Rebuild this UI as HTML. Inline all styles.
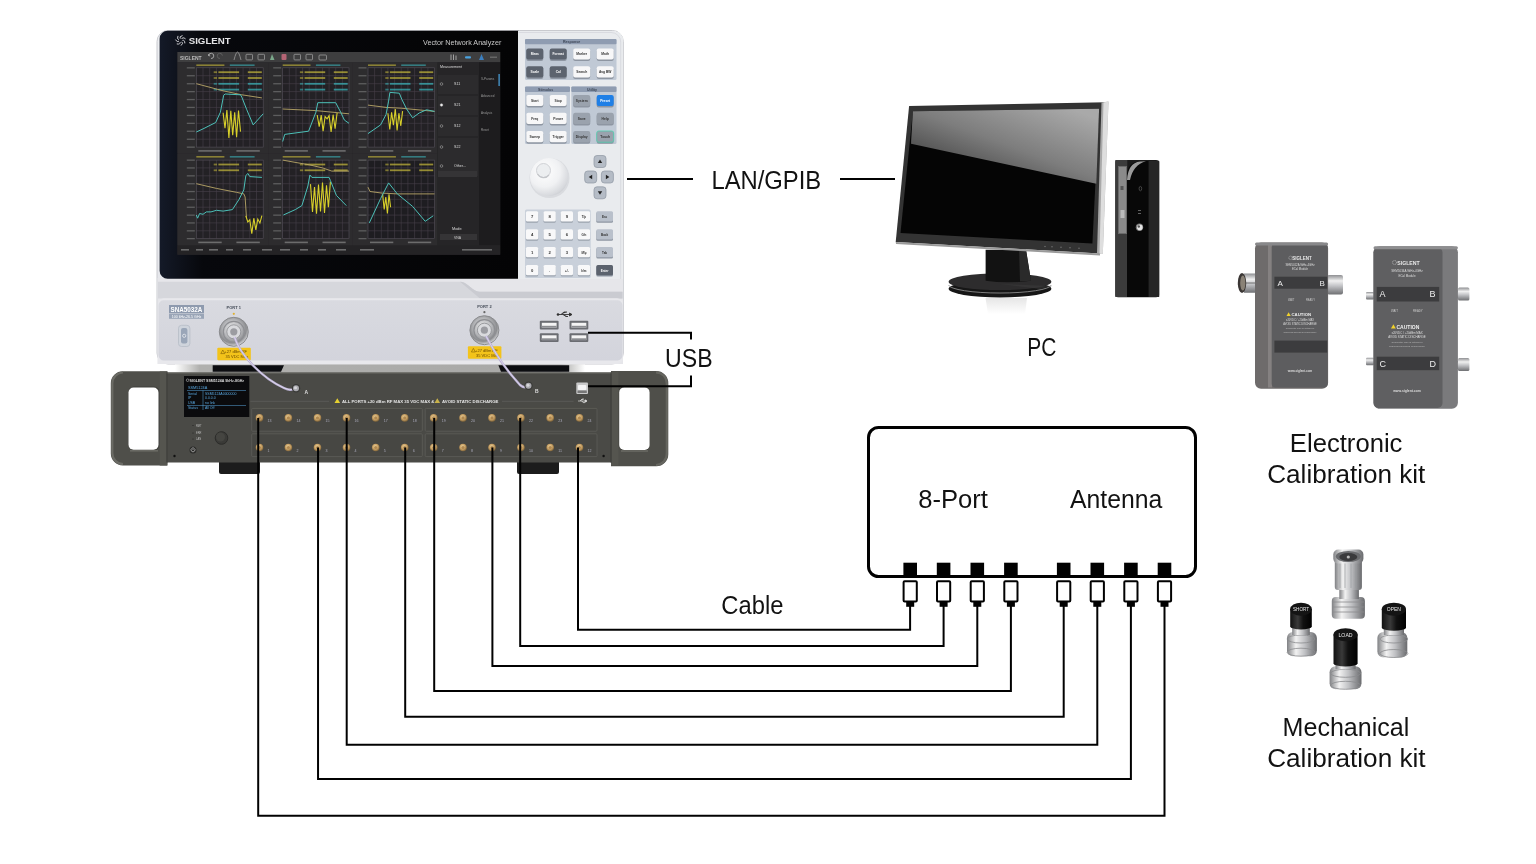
<!DOCTYPE html>
<html><head><meta charset="utf-8">
<style>
html,body{margin:0;padding:0;background:#fff;}
body{width:1536px;height:864px;overflow:hidden;position:relative;font-family:"Liberation Sans",sans-serif;}
svg{position:absolute;left:0;top:0;}
.t{font-family:"Liberation Sans",sans-serif;fill:#111;}
.s{font-family:"Liberation Sans",sans-serif;}
</style></head><body>
<svg width="1536" height="864" viewBox="0 0 1536 864">
<g opacity="0.999">
<defs><linearGradient id="bodyg" x1="0" y1="0" x2="0" y2="1"><stop offset="0" stop-color="#eceef1"/><stop offset="1" stop-color="#e3e4e9"/></linearGradient><linearGradient id="lowg" x1="0" y1="0" x2="0" y2="1"><stop offset="0" stop-color="#d9dae0"/><stop offset="1" stop-color="#d3d4dc"/></linearGradient><radialGradient id="knobg" cx="0.38" cy="0.35" r="0.75"><stop offset="0" stop-color="#ffffff"/><stop offset="0.55" stop-color="#f0f1f3"/><stop offset="0.85" stop-color="#d8dade"/><stop offset="1" stop-color="#c4c6cb"/></radialGradient><radialGradient id="conng" cx="0.45" cy="0.4" r="0.6"><stop offset="0" stop-color="#f4f4f4"/><stop offset="0.5" stop-color="#b8b9bc"/><stop offset="0.8" stop-color="#8c8d90"/><stop offset="1" stop-color="#d7d8da"/></radialGradient><linearGradient id="bez" x1="0" y1="0" x2="1" y2="0"><stop offset="0" stop-color="#141a28"/><stop offset="0.12" stop-color="#07080c"/><stop offset="1" stop-color="#040405"/></linearGradient></defs>
<rect x="157" y="30.5" width="466.3" height="333.5" rx="11" fill="url(#bodyg)" stroke="#c9cacf" stroke-width="1"/>
<rect x="157.5" y="278" width="465.5" height="86" fill="#e6e6ea"/>
<path d="M158 281.7H460C468 281.7 472 291.7 480 291.7H622.5V298.5H158Z" fill="#d6d7dc"/>
<path d="M460 281.7C468 281.7 472 291.7 480 291.7H622.5V298.5H480Z" fill="#cacbd1"/>
<path d="M158 364V304A6 6 0 0 1 164 298.2H617A6 6 0 0 1 623 304V358A6 6 0 0 1 617 364Z" fill="#e8e8ec"/>
<path d="M158.5 358V305A5 5 0 0 1 163.5 300.3H617.5A5 5 0 0 1 622.5 305V355A5 5 0 0 1 617.5 360.5H164A5.5 5.5 0 0 1 158.5 355Z" fill="url(#lowg)"/>
<path d="M168 30.8H518.5V278.8H168A8 8 0 0 1 159.6 270.8V38.8A8 8 0 0 1 168 30.8Z" fill="url(#bez)"/>
<text x="188.7" y="44.2" font-size="9.7" font-weight="bold" fill="#e4e4e6" class="s">SIGLENT</text>
<path d="M182.40 40.40Q184.72 39.57 184.89 43.34" fill="none" stroke="#d0d0d4" stroke-width="1"/>
<path d="M181.72 41.81Q183.82 43.10 180.98 45.59" fill="none" stroke="#d0d0d4" stroke-width="1"/>
<path d="M180.20 42.15Q180.50 44.60 176.78 43.93" fill="none" stroke="#d0d0d4" stroke-width="1"/>
<path d="M178.98 41.18Q177.25 42.94 175.46 39.62" fill="none" stroke="#d0d0d4" stroke-width="1"/>
<path d="M178.98 39.62Q176.53 39.37 178.01 35.89" fill="none" stroke="#d0d0d4" stroke-width="1"/>
<path d="M180.20 38.65Q178.87 36.57 182.51 35.56" fill="none" stroke="#d0d0d4" stroke-width="1"/>
<path d="M181.72 38.99Q182.51 36.66 185.57 38.88" fill="none" stroke="#d0d0d4" stroke-width="1"/>
<text x="423" y="44.5" font-size="7.2" fill="#c9c9c9" class="s">Vector Network Analyzer</text>
<rect x="177.5" y="52" width="322.7" height="202.7" fill="#2a292b"/>
<rect x="177.5" y="52" width="322.7" height="10.2" fill="#3e3e3f"/>
<text x="180" y="59.5" font-size="5" fill="#bbb" font-weight="bold" class="s">SIGLENT</text>
<path d="M211 58.5A2.6 2.6 0 1 0 208.6 55.6M208.6 55.6l0.2 -1.6M208.6 55.6l1.6 0.3" fill="none" stroke="#bbb" stroke-width="0.8"/>
<path d="M220 58.5A2.6 2.6 0 1 1 222.4 55.6" fill="none" stroke="#666" stroke-width="0.8"/>
<path d="M234 60Q236 52 237.5 52Q239 52 241 60" fill="none" stroke="#9a9a9a" stroke-width="0.8"/>
<rect x="246" y="54.3" width="6.5" height="5.6" rx="0.8" fill="none" stroke="#9a9a9a" stroke-width="0.8"/>
<rect x="258" y="54.3" width="6.5" height="5.6" rx="0.8" fill="none" stroke="#9a9a9a" stroke-width="0.8"/>
<rect x="294" y="54.3" width="6.5" height="5.6" rx="0.8" fill="none" stroke="#9a9a9a" stroke-width="0.8"/>
<rect x="306" y="54.3" width="6.5" height="5.6" rx="0.8" fill="none" stroke="#9a9a9a" stroke-width="0.8"/>
<path d="M270 60L272 54L274.5 60Z" fill="#7aa88a"/>
<rect x="281.5" y="54" width="5" height="6" rx="1" fill="#b46474"/>
<rect x="319" y="55" width="7.5" height="5" rx="1" fill="none" stroke="#9a9a9a" stroke-width="0.8"/>
<path d="M451 54.5V60M453.5 54.5V60M456 55.5V60" stroke="#bbb" stroke-width="0.8"/>
<rect x="465" y="56.3" width="6" height="2.2" rx="1" fill="#4aa3e0"/>
<path d="M479 60L481.5 54L484 60Z" fill="#3b7fc0"/>
<rect x="490" y="56.5" width="7" height="1.5" fill="#666"/>
<rect x="177.5" y="62.2" width="90.80000000000001" height="91.3" fill="#2d2c2e"/>
<rect x="196.3" y="67.8" width="66.89999999999998" height="79.3" fill="#232125"/>
<path d="M203.0 67.8V147.1M196.3 75.7H263.2M209.7 67.8V147.1M196.3 83.7H263.2M216.4 67.8V147.1M196.3 91.6H263.2M223.1 67.8V147.1M196.3 99.5H263.2M229.8 67.8V147.1M196.3 107.4H263.2M236.4 67.8V147.1M196.3 115.4H263.2M243.1 67.8V147.1M196.3 123.3H263.2M249.8 67.8V147.1M196.3 131.2H263.2M256.5 67.8V147.1M196.3 139.2H263.2" stroke="#463f49" stroke-width="0.6" fill="none"/>
<rect x="196.3" y="67.8" width="66.89999999999998" height="79.3" fill="none" stroke="#55505a" stroke-width="0.6"/>
<rect x="186.8" y="67.2" width="8" height="1.3" fill="#9a9a9a" opacity="0.45"/>
<rect x="186.8" y="75.1" width="8" height="1.3" fill="#9a9a9a" opacity="0.45"/>
<rect x="186.8" y="83.1" width="8" height="1.3" fill="#9a9a9a" opacity="0.45"/>
<rect x="186.8" y="91.0" width="8" height="1.3" fill="#9a9a9a" opacity="0.45"/>
<rect x="186.8" y="98.9" width="8" height="1.3" fill="#9a9a9a" opacity="0.45"/>
<rect x="186.8" y="106.8" width="8" height="1.3" fill="#9a9a9a" opacity="0.45"/>
<rect x="186.8" y="114.8" width="8" height="1.3" fill="#9a9a9a" opacity="0.45"/>
<rect x="186.8" y="122.7" width="8" height="1.3" fill="#9a9a9a" opacity="0.45"/>
<rect x="186.8" y="130.6" width="8" height="1.3" fill="#9a9a9a" opacity="0.45"/>
<rect x="186.8" y="138.6" width="8" height="1.3" fill="#9a9a9a" opacity="0.45"/>
<rect x="186.8" y="146.5" width="8" height="1.3" fill="#9a9a9a" opacity="0.45"/>
<rect x="196.3" y="64.4" width="28.1" height="1.6" fill="#c8b93a" opacity="0.6"/>
<rect x="229.8" y="64.4" width="24.8" height="1.6" fill="#3ab0b8" opacity="0.6"/>
<rect x="213.7" y="71.3" width="3.3" height="1.8" fill="#c8bb3c" opacity="0.55"/>
<rect x="218.4" y="71.3" width="20.7" height="1.8" fill="#c8bb3c" opacity="0.7"/>
<rect x="247.8" y="71.3" width="14.0" height="1.8" fill="#c8bb3c" opacity="0.7"/>
<rect x="213.7" y="77.1" width="3.3" height="1.8" fill="#c8bb3c" opacity="0.55"/>
<rect x="218.4" y="77.1" width="20.7" height="1.8" fill="#c8bb3c" opacity="0.7"/>
<rect x="247.8" y="77.1" width="14.0" height="1.8" fill="#c8bb3c" opacity="0.7"/>
<rect x="213.7" y="82.9" width="3.3" height="1.8" fill="#3bb9bf" opacity="0.55"/>
<rect x="218.4" y="82.9" width="20.7" height="1.8" fill="#3bb9bf" opacity="0.7"/>
<rect x="247.8" y="82.9" width="14.0" height="1.8" fill="#3bb9bf" opacity="0.7"/>
<rect x="213.7" y="88.7" width="3.3" height="1.8" fill="#3bb9bf" opacity="0.55"/>
<rect x="218.4" y="88.7" width="20.7" height="1.8" fill="#3bb9bf" opacity="0.7"/>
<rect x="247.8" y="88.7" width="14.0" height="1.8" fill="#3bb9bf" opacity="0.7"/>
<rect x="198.3" y="150.1" width="23.4" height="1.6" fill="#888" opacity="0.7"/>
<rect x="236.4" y="150.1" width="23.4" height="1.6" fill="#888" opacity="0.7"/>
<polyline points="196.3,83.7 223.1,90.8 241.8,94.8 261.9,97.9" fill="none" stroke="#b8a668" stroke-width="0.9"/>
<polyline points="223.1,112.8 225.0,128.1 226.9,110.1 228.9,138.0 230.8,110.7 232.7,135.1 234.7,112.4 236.6,137.1 238.5,110.5 240.5,131.6" fill="none" stroke="#d8d02a" stroke-width="1.1"/>
<polyline points="196.3,132.0 203.0,128.9 215.7,122.5 220.4,112.2 223.7,95.2 225.1,94.0 240.5,94.8 241.8,97.1 246.8,109.8 253.2,124.9 263.2,113.8" fill="none" stroke="#4cc0b8" stroke-width="1.0"/>
<rect x="177.5" y="153.8" width="90.80000000000001" height="91.6" fill="#2d2c2e"/>
<rect x="196.3" y="160.1" width="66.89999999999998" height="78.5" fill="#232125"/>
<path d="M203.0 160.1V238.6M196.3 167.9H263.2M209.7 160.1V238.6M196.3 175.8H263.2M216.4 160.1V238.6M196.3 183.7H263.2M223.1 160.1V238.6M196.3 191.5H263.2M229.8 160.1V238.6M196.3 199.3H263.2M236.4 160.1V238.6M196.3 207.2H263.2M243.1 160.1V238.6M196.3 215.1H263.2M249.8 160.1V238.6M196.3 222.9H263.2M256.5 160.1V238.6M196.3 230.8H263.2" stroke="#463f49" stroke-width="0.6" fill="none"/>
<rect x="196.3" y="160.1" width="66.89999999999998" height="78.5" fill="none" stroke="#55505a" stroke-width="0.6"/>
<rect x="186.8" y="159.5" width="8" height="1.3" fill="#9a9a9a" opacity="0.45"/>
<rect x="186.8" y="167.3" width="8" height="1.3" fill="#9a9a9a" opacity="0.45"/>
<rect x="186.8" y="175.2" width="8" height="1.3" fill="#9a9a9a" opacity="0.45"/>
<rect x="186.8" y="183.1" width="8" height="1.3" fill="#9a9a9a" opacity="0.45"/>
<rect x="186.8" y="190.9" width="8" height="1.3" fill="#9a9a9a" opacity="0.45"/>
<rect x="186.8" y="198.8" width="8" height="1.3" fill="#9a9a9a" opacity="0.45"/>
<rect x="186.8" y="206.6" width="8" height="1.3" fill="#9a9a9a" opacity="0.45"/>
<rect x="186.8" y="214.5" width="8" height="1.3" fill="#9a9a9a" opacity="0.45"/>
<rect x="186.8" y="222.3" width="8" height="1.3" fill="#9a9a9a" opacity="0.45"/>
<rect x="186.8" y="230.2" width="8" height="1.3" fill="#9a9a9a" opacity="0.45"/>
<rect x="186.8" y="238.0" width="8" height="1.3" fill="#9a9a9a" opacity="0.45"/>
<rect x="196.3" y="156.0" width="28.1" height="1.6" fill="#c8b93a" opacity="0.6"/>
<rect x="229.8" y="156.0" width="24.8" height="1.6" fill="#3ab0b8" opacity="0.6"/>
<rect x="213.7" y="163.6" width="3.3" height="1.8" fill="#c8bb3c" opacity="0.55"/>
<rect x="218.4" y="163.6" width="20.7" height="1.8" fill="#c8bb3c" opacity="0.7"/>
<rect x="247.8" y="163.6" width="14.0" height="1.8" fill="#c8bb3c" opacity="0.7"/>
<rect x="213.7" y="169.4" width="3.3" height="1.8" fill="#c8bb3c" opacity="0.55"/>
<rect x="218.4" y="169.4" width="20.7" height="1.8" fill="#c8bb3c" opacity="0.7"/>
<rect x="247.8" y="169.4" width="14.0" height="1.8" fill="#c8bb3c" opacity="0.7"/>
<rect x="198.3" y="241.6" width="23.4" height="1.6" fill="#888" opacity="0.7"/>
<rect x="236.4" y="241.6" width="23.4" height="1.6" fill="#888" opacity="0.7"/>
<polyline points="196.3,183.7 216.4,188.4 236.4,192.3 243.8,193.9 245.1,197.0 246.5,218.2" fill="none" stroke="#b8a668" stroke-width="0.9"/>
<polyline points="245.8,215.9 247.8,222.0 249.8,219.8 251.8,233.6 253.8,218.2 255.8,229.8 257.8,219.1 259.9,223.1 261.9,215.6" fill="none" stroke="#d8d02a" stroke-width="1.1"/>
<polyline points="196.3,215.0 197.6,218.2 199.6,213.5 203.0,214.3 206.3,211.9 211.0,211.9 216.4,210.3 223.1,211.1 232.4,209.6 239.1,199.3 243.8,189.9 245.8,175.8 247.8,173.4 249.8,176.6 261.9,177.4" fill="none" stroke="#4cc0b8" stroke-width="1.0"/>
<rect x="268.6" y="62.2" width="83.89999999999998" height="91.3" fill="#2d2c2e"/>
<rect x="282.7" y="67.8" width="66.30000000000001" height="79.3" fill="#232125"/>
<path d="M289.3 67.8V147.1M282.7 75.7H349.0M296.0 67.8V147.1M282.7 83.7H349.0M302.6 67.8V147.1M282.7 91.6H349.0M309.2 67.8V147.1M282.7 99.5H349.0M315.9 67.8V147.1M282.7 107.4H349.0M322.5 67.8V147.1M282.7 115.4H349.0M329.1 67.8V147.1M282.7 123.3H349.0M335.7 67.8V147.1M282.7 131.2H349.0M342.4 67.8V147.1M282.7 139.2H349.0" stroke="#463f49" stroke-width="0.6" fill="none"/>
<rect x="282.7" y="67.8" width="66.30000000000001" height="79.3" fill="none" stroke="#55505a" stroke-width="0.6"/>
<rect x="273.2" y="67.2" width="8" height="1.3" fill="#9a9a9a" opacity="0.45"/>
<rect x="273.2" y="75.1" width="8" height="1.3" fill="#9a9a9a" opacity="0.45"/>
<rect x="273.2" y="83.1" width="8" height="1.3" fill="#9a9a9a" opacity="0.45"/>
<rect x="273.2" y="91.0" width="8" height="1.3" fill="#9a9a9a" opacity="0.45"/>
<rect x="273.2" y="98.9" width="8" height="1.3" fill="#9a9a9a" opacity="0.45"/>
<rect x="273.2" y="106.8" width="8" height="1.3" fill="#9a9a9a" opacity="0.45"/>
<rect x="273.2" y="114.8" width="8" height="1.3" fill="#9a9a9a" opacity="0.45"/>
<rect x="273.2" y="122.7" width="8" height="1.3" fill="#9a9a9a" opacity="0.45"/>
<rect x="273.2" y="130.6" width="8" height="1.3" fill="#9a9a9a" opacity="0.45"/>
<rect x="273.2" y="138.6" width="8" height="1.3" fill="#9a9a9a" opacity="0.45"/>
<rect x="273.2" y="146.5" width="8" height="1.3" fill="#9a9a9a" opacity="0.45"/>
<rect x="282.7" y="64.4" width="27.8" height="1.6" fill="#c8b93a" opacity="0.6"/>
<rect x="315.9" y="64.4" width="24.5" height="1.6" fill="#3ab0b8" opacity="0.6"/>
<rect x="299.9" y="71.3" width="3.3" height="1.8" fill="#c8bb3c" opacity="0.55"/>
<rect x="304.6" y="71.3" width="20.6" height="1.8" fill="#c8bb3c" opacity="0.7"/>
<rect x="333.8" y="71.3" width="13.9" height="1.8" fill="#c8bb3c" opacity="0.7"/>
<rect x="299.9" y="77.1" width="3.3" height="1.8" fill="#c8bb3c" opacity="0.55"/>
<rect x="304.6" y="77.1" width="20.6" height="1.8" fill="#c8bb3c" opacity="0.7"/>
<rect x="333.8" y="77.1" width="13.9" height="1.8" fill="#c8bb3c" opacity="0.7"/>
<rect x="299.9" y="82.9" width="3.3" height="1.8" fill="#3bb9bf" opacity="0.55"/>
<rect x="304.6" y="82.9" width="20.6" height="1.8" fill="#3bb9bf" opacity="0.7"/>
<rect x="333.8" y="82.9" width="13.9" height="1.8" fill="#3bb9bf" opacity="0.7"/>
<rect x="299.9" y="88.7" width="3.3" height="1.8" fill="#3bb9bf" opacity="0.55"/>
<rect x="304.6" y="88.7" width="20.6" height="1.8" fill="#3bb9bf" opacity="0.7"/>
<rect x="333.8" y="88.7" width="13.9" height="1.8" fill="#3bb9bf" opacity="0.7"/>
<rect x="284.7" y="150.1" width="23.2" height="1.6" fill="#888" opacity="0.7"/>
<rect x="322.5" y="150.1" width="23.2" height="1.6" fill="#888" opacity="0.7"/>
<polyline points="282.7,109.0 315.9,110.6 349.0,113.8" fill="none" stroke="#b8a668" stroke-width="0.9"/>
<polyline points="317.2,115.0 319.2,126.7 321.2,115.1 323.1,131.1 325.1,116.6 327.1,118.9 329.1,115.6 331.1,132.0 333.1,114.7 335.1,128.7 337.1,113.0" fill="none" stroke="#d8d02a" stroke-width="1.1"/>
<polyline points="282.7,141.5 284.7,134.4 308.6,131.2 315.9,112.2 317.8,102.7 335.7,102.7 340.7,112.2 344.4,120.1 349.0,123.3" fill="none" stroke="#4cc0b8" stroke-width="1.0"/>
<rect x="268.6" y="153.8" width="83.89999999999998" height="91.6" fill="#2d2c2e"/>
<rect x="282.7" y="160.1" width="66.30000000000001" height="78.5" fill="#232125"/>
<path d="M289.3 160.1V238.6M282.7 167.9H349.0M296.0 160.1V238.6M282.7 175.8H349.0M302.6 160.1V238.6M282.7 183.7H349.0M309.2 160.1V238.6M282.7 191.5H349.0M315.9 160.1V238.6M282.7 199.3H349.0M322.5 160.1V238.6M282.7 207.2H349.0M329.1 160.1V238.6M282.7 215.1H349.0M335.7 160.1V238.6M282.7 222.9H349.0M342.4 160.1V238.6M282.7 230.8H349.0" stroke="#463f49" stroke-width="0.6" fill="none"/>
<rect x="282.7" y="160.1" width="66.30000000000001" height="78.5" fill="none" stroke="#55505a" stroke-width="0.6"/>
<rect x="273.2" y="159.5" width="8" height="1.3" fill="#9a9a9a" opacity="0.45"/>
<rect x="273.2" y="167.3" width="8" height="1.3" fill="#9a9a9a" opacity="0.45"/>
<rect x="273.2" y="175.2" width="8" height="1.3" fill="#9a9a9a" opacity="0.45"/>
<rect x="273.2" y="183.1" width="8" height="1.3" fill="#9a9a9a" opacity="0.45"/>
<rect x="273.2" y="190.9" width="8" height="1.3" fill="#9a9a9a" opacity="0.45"/>
<rect x="273.2" y="198.8" width="8" height="1.3" fill="#9a9a9a" opacity="0.45"/>
<rect x="273.2" y="206.6" width="8" height="1.3" fill="#9a9a9a" opacity="0.45"/>
<rect x="273.2" y="214.5" width="8" height="1.3" fill="#9a9a9a" opacity="0.45"/>
<rect x="273.2" y="222.3" width="8" height="1.3" fill="#9a9a9a" opacity="0.45"/>
<rect x="273.2" y="230.2" width="8" height="1.3" fill="#9a9a9a" opacity="0.45"/>
<rect x="273.2" y="238.0" width="8" height="1.3" fill="#9a9a9a" opacity="0.45"/>
<rect x="282.7" y="156.0" width="27.8" height="1.6" fill="#c8b93a" opacity="0.6"/>
<rect x="315.9" y="156.0" width="24.5" height="1.6" fill="#3ab0b8" opacity="0.6"/>
<rect x="299.9" y="163.6" width="3.3" height="1.8" fill="#c8bb3c" opacity="0.55"/>
<rect x="304.6" y="163.6" width="20.6" height="1.8" fill="#c8bb3c" opacity="0.7"/>
<rect x="333.8" y="163.6" width="13.9" height="1.8" fill="#c8bb3c" opacity="0.7"/>
<rect x="299.9" y="169.4" width="3.3" height="1.8" fill="#c8bb3c" opacity="0.55"/>
<rect x="304.6" y="169.4" width="20.6" height="1.8" fill="#c8bb3c" opacity="0.7"/>
<rect x="333.8" y="169.4" width="13.9" height="1.8" fill="#c8bb3c" opacity="0.7"/>
<rect x="284.7" y="241.6" width="23.2" height="1.6" fill="#888" opacity="0.7"/>
<rect x="322.5" y="241.6" width="23.2" height="1.6" fill="#888" opacity="0.7"/>
<polyline points="282.7,160.1 296.0,162.5 309.2,164.8 322.5,167.9 331.8,171.1 349.0,171.1" fill="none" stroke="#b8a668" stroke-width="0.9"/>
<polyline points="310.5,184.1 312.5,211.9 314.5,187.1 316.5,213.8 318.5,184.5 320.5,211.4 322.5,182.5 324.5,212.9 326.5,185.3 328.4,207.3 330.4,181.9" fill="none" stroke="#d8d02a" stroke-width="1.1"/>
<polyline points="283.4,215.0 295.3,209.6 301.9,205.6 307.9,186.0 309.9,175.0 311.9,177.4 329.1,177.4 330.4,180.5 336.4,195.4 346.3,205.6" fill="none" stroke="#4cc0b8" stroke-width="1.0"/>
<rect x="352.8" y="62.2" width="84.19999999999999" height="91.3" fill="#2d2c2e"/>
<rect x="368.0" y="67.8" width="66.5" height="79.3" fill="#232125"/>
<path d="M374.6 67.8V147.1M368.0 75.7H434.5M381.3 67.8V147.1M368.0 83.7H434.5M387.9 67.8V147.1M368.0 91.6H434.5M394.6 67.8V147.1M368.0 99.5H434.5M401.2 67.8V147.1M368.0 107.4H434.5M407.9 67.8V147.1M368.0 115.4H434.5M414.6 67.8V147.1M368.0 123.3H434.5M421.2 67.8V147.1M368.0 131.2H434.5M427.9 67.8V147.1M368.0 139.2H434.5" stroke="#463f49" stroke-width="0.6" fill="none"/>
<rect x="368.0" y="67.8" width="66.5" height="79.3" fill="none" stroke="#55505a" stroke-width="0.6"/>
<rect x="358.5" y="67.2" width="8" height="1.3" fill="#9a9a9a" opacity="0.45"/>
<rect x="358.5" y="75.1" width="8" height="1.3" fill="#9a9a9a" opacity="0.45"/>
<rect x="358.5" y="83.1" width="8" height="1.3" fill="#9a9a9a" opacity="0.45"/>
<rect x="358.5" y="91.0" width="8" height="1.3" fill="#9a9a9a" opacity="0.45"/>
<rect x="358.5" y="98.9" width="8" height="1.3" fill="#9a9a9a" opacity="0.45"/>
<rect x="358.5" y="106.8" width="8" height="1.3" fill="#9a9a9a" opacity="0.45"/>
<rect x="358.5" y="114.8" width="8" height="1.3" fill="#9a9a9a" opacity="0.45"/>
<rect x="358.5" y="122.7" width="8" height="1.3" fill="#9a9a9a" opacity="0.45"/>
<rect x="358.5" y="130.6" width="8" height="1.3" fill="#9a9a9a" opacity="0.45"/>
<rect x="358.5" y="138.6" width="8" height="1.3" fill="#9a9a9a" opacity="0.45"/>
<rect x="358.5" y="146.5" width="8" height="1.3" fill="#9a9a9a" opacity="0.45"/>
<rect x="368.0" y="64.4" width="27.9" height="1.6" fill="#c8b93a" opacity="0.6"/>
<rect x="401.2" y="64.4" width="24.6" height="1.6" fill="#3ab0b8" opacity="0.6"/>
<rect x="385.3" y="71.3" width="3.3" height="1.8" fill="#c8bb3c" opacity="0.55"/>
<rect x="389.9" y="71.3" width="20.6" height="1.8" fill="#c8bb3c" opacity="0.7"/>
<rect x="419.2" y="71.3" width="14.0" height="1.8" fill="#c8bb3c" opacity="0.7"/>
<rect x="385.3" y="77.1" width="3.3" height="1.8" fill="#c8bb3c" opacity="0.55"/>
<rect x="389.9" y="77.1" width="20.6" height="1.8" fill="#c8bb3c" opacity="0.7"/>
<rect x="419.2" y="77.1" width="14.0" height="1.8" fill="#c8bb3c" opacity="0.7"/>
<rect x="385.3" y="82.9" width="3.3" height="1.8" fill="#3bb9bf" opacity="0.55"/>
<rect x="389.9" y="82.9" width="20.6" height="1.8" fill="#3bb9bf" opacity="0.7"/>
<rect x="419.2" y="82.9" width="14.0" height="1.8" fill="#3bb9bf" opacity="0.7"/>
<rect x="385.3" y="88.7" width="3.3" height="1.8" fill="#3bb9bf" opacity="0.55"/>
<rect x="389.9" y="88.7" width="20.6" height="1.8" fill="#3bb9bf" opacity="0.7"/>
<rect x="419.2" y="88.7" width="14.0" height="1.8" fill="#3bb9bf" opacity="0.7"/>
<rect x="370.0" y="150.1" width="23.3" height="1.6" fill="#888" opacity="0.7"/>
<rect x="407.9" y="150.1" width="23.3" height="1.6" fill="#888" opacity="0.7"/>
<polyline points="368.0,105.1 386.0,107.4 401.2,108.2 434.5,111.4" fill="none" stroke="#b8a668" stroke-width="0.9"/>
<polyline points="387.9,113.2 389.8,129.5 391.6,112.3 393.4,125.2 395.3,109.1 397.1,130.5 398.9,113.2 400.8,125.8 402.6,111.1" fill="none" stroke="#d8d02a" stroke-width="1.1"/>
<polyline points="368.0,133.6 380.6,124.9 386.0,114.6 388.6,101.1 389.9,92.4 399.3,93.2 401.9,99.5 406.6,109.0 412.6,117.8 419.2,113.0 426.5,109.8 434.5,111.4" fill="none" stroke="#4cc0b8" stroke-width="1.0"/>
<rect x="352.8" y="153.8" width="84.19999999999999" height="91.6" fill="#2d2c2e"/>
<rect x="368.0" y="160.1" width="66.5" height="78.5" fill="#1e1d21"/>
<path d="M374.6 160.1V238.6M368.0 167.9H434.5M381.3 160.1V238.6M368.0 175.8H434.5M387.9 160.1V238.6M368.0 183.7H434.5M394.6 160.1V238.6M368.0 191.5H434.5M401.2 160.1V238.6M368.0 199.3H434.5M407.9 160.1V238.6M368.0 207.2H434.5M414.6 160.1V238.6M368.0 215.1H434.5M421.2 160.1V238.6M368.0 222.9H434.5M427.9 160.1V238.6M368.0 230.8H434.5" stroke="#463f49" stroke-width="0.6" fill="none"/>
<rect x="368.0" y="160.1" width="66.5" height="78.5" fill="none" stroke="#55505a" stroke-width="0.6"/>
<rect x="358.5" y="159.5" width="8" height="1.3" fill="#9a9a9a" opacity="0.45"/>
<rect x="358.5" y="167.3" width="8" height="1.3" fill="#9a9a9a" opacity="0.45"/>
<rect x="358.5" y="175.2" width="8" height="1.3" fill="#9a9a9a" opacity="0.45"/>
<rect x="358.5" y="183.1" width="8" height="1.3" fill="#9a9a9a" opacity="0.45"/>
<rect x="358.5" y="190.9" width="8" height="1.3" fill="#9a9a9a" opacity="0.45"/>
<rect x="358.5" y="198.8" width="8" height="1.3" fill="#9a9a9a" opacity="0.45"/>
<rect x="358.5" y="206.6" width="8" height="1.3" fill="#9a9a9a" opacity="0.45"/>
<rect x="358.5" y="214.5" width="8" height="1.3" fill="#9a9a9a" opacity="0.45"/>
<rect x="358.5" y="222.3" width="8" height="1.3" fill="#9a9a9a" opacity="0.45"/>
<rect x="358.5" y="230.2" width="8" height="1.3" fill="#9a9a9a" opacity="0.45"/>
<rect x="358.5" y="238.0" width="8" height="1.3" fill="#9a9a9a" opacity="0.45"/>
<rect x="368.0" y="156.0" width="27.9" height="1.6" fill="#c8b93a" opacity="0.6"/>
<rect x="401.2" y="156.0" width="24.6" height="1.6" fill="#3ab0b8" opacity="0.6"/>
<rect x="385.3" y="163.6" width="3.3" height="1.8" fill="#c8bb3c" opacity="0.55"/>
<rect x="389.9" y="163.6" width="20.6" height="1.8" fill="#c8bb3c" opacity="0.7"/>
<rect x="419.2" y="163.6" width="14.0" height="1.8" fill="#c8bb3c" opacity="0.7"/>
<rect x="385.3" y="169.4" width="3.3" height="1.8" fill="#c8bb3c" opacity="0.55"/>
<rect x="389.9" y="169.4" width="20.6" height="1.8" fill="#c8bb3c" opacity="0.7"/>
<rect x="419.2" y="169.4" width="14.0" height="1.8" fill="#c8bb3c" opacity="0.7"/>
<rect x="370.0" y="241.6" width="23.3" height="1.6" fill="#888" opacity="0.7"/>
<rect x="407.9" y="241.6" width="23.3" height="1.6" fill="#888" opacity="0.7"/>
<polyline points="368.0,187.2 370.0,191.5 382.0,193.1 397.3,193.9 434.5,193.9" fill="none" stroke="#b8a668" stroke-width="0.9"/>
<polyline points="382.6,194.1 384.2,209.4 385.8,197.1 387.4,213.5 389.0,194.4 390.6,207.3" fill="none" stroke="#d8d02a" stroke-width="1.1"/>
<polyline points="369.3,222.9 380.6,198.6 388.6,182.9 397.3,193.9 412.6,206.4 425.2,221.3 433.2,215.8" fill="none" stroke="#4cc0b8" stroke-width="1.0"/>
<rect x="437.3" y="62.2" width="41.5" height="183.2" fill="#262527"/>
<text x="440" y="68" font-size="3.6" fill="#ddd" class="s">Measurement</text>
<rect x="438" y="75" width="40" height="19" fill="#2c2b2d"/>
<circle cx="441.5" cy="84" r="1.3" fill="none" stroke="#bbb" stroke-width="0.5"/>
<text x="454" y="85.2" font-size="3.6" fill="#ddd" class="s">S11</text>
<rect x="438" y="96" width="40" height="19" fill="#2c2b2d"/>
<circle cx="441.5" cy="105" r="1.3" fill="#eee" stroke="#bbb" stroke-width="0.5"/>
<text x="454" y="106.2" font-size="3.6" fill="#ddd" class="s">S21</text>
<rect x="438" y="117" width="40" height="19" fill="#2c2b2d"/>
<circle cx="441.5" cy="126" r="1.3" fill="none" stroke="#bbb" stroke-width="0.5"/>
<text x="454" y="127.2" font-size="3.6" fill="#ddd" class="s">S12</text>
<rect x="438" y="138" width="40" height="19" fill="#2c2b2d"/>
<circle cx="441.5" cy="147" r="1.3" fill="none" stroke="#bbb" stroke-width="0.5"/>
<text x="454" y="148.2" font-size="3.6" fill="#ddd" class="s">S22</text>
<rect x="438" y="157" width="40" height="19" fill="#2c2b2d"/>
<circle cx="441.5" cy="166" r="1.3" fill="none" stroke="#bbb" stroke-width="0.5"/>
<text x="454" y="167.2" font-size="3.6" fill="#ddd" class="s">Other...</text>
<rect x="438" y="171" width="39" height="6" fill="#353436"/>
<text x="452" y="229.5" font-size="3.8" fill="#ddd" class="s">Mode</text>
<rect x="440" y="234" width="37" height="6" fill="#353436"/>
<text x="454" y="238.5" font-size="3.5" fill="#ccc" class="s">VNA</text>
<rect x="479" y="62.2" width="21.2" height="183.2" fill="#1d1c1e"/>
<text x="481" y="80" font-size="3" fill="#999" class="s">S-Params</text>
<text x="481" y="97" font-size="3" fill="#999" class="s">Advanced</text>
<text x="481" y="114" font-size="3" fill="#999" class="s">Analysis</text>
<text x="481" y="131" font-size="3" fill="#999" class="s">Reset</text>
<rect x="498.5" y="74" width="1.2" height="12" fill="#4aa3e0"/>
<rect x="177.5" y="245.4" width="322.7" height="9.3" fill="#242325"/>
<rect x="181" y="249" width="8" height="1.6" fill="#8a8a8a" opacity="0.7"/>
<path d="M518.5 31H612A11 11 0 0 1 623 42V279H518.5Z" fill="#e9ebee"/>
<rect x="196" y="249" width="7" height="1.6" fill="#8a8a8a" opacity="0.7"/>
<path d="M518.5 31H612A11 11 0 0 1 623 42V279H518.5Z" fill="#e9ebee"/>
<rect x="209" y="249" width="9" height="1.6" fill="#8a8a8a" opacity="0.7"/>
<path d="M518.5 31H612A11 11 0 0 1 623 42V279H518.5Z" fill="#e9ebee"/>
<rect x="226" y="249" width="7" height="1.6" fill="#8a8a8a" opacity="0.7"/>
<path d="M518.5 31H612A11 11 0 0 1 623 42V279H518.5Z" fill="#e9ebee"/>
<rect x="243" y="249" width="8" height="1.6" fill="#8a8a8a" opacity="0.7"/>
<path d="M518.5 31H612A11 11 0 0 1 623 42V279H518.5Z" fill="#e9ebee"/>
<rect x="262" y="249" width="10" height="1.6" fill="#8a8a8a" opacity="0.7"/>
<path d="M518.5 31H612A11 11 0 0 1 623 42V279H518.5Z" fill="#e9ebee"/>
<rect x="280" y="249" width="10" height="1.6" fill="#8a8a8a" opacity="0.7"/>
<path d="M518.5 31H612A11 11 0 0 1 623 42V279H518.5Z" fill="#e9ebee"/>
<rect x="300" y="249" width="8" height="1.6" fill="#8a8a8a" opacity="0.7"/>
<path d="M518.5 31H612A11 11 0 0 1 623 42V279H518.5Z" fill="#e9ebee"/>
<rect x="318" y="249" width="8" height="1.6" fill="#8a8a8a" opacity="0.7"/>
<path d="M518.5 31H612A11 11 0 0 1 623 42V279H518.5Z" fill="#e9ebee"/>
<rect x="336" y="249" width="10" height="1.6" fill="#8a8a8a" opacity="0.7"/>
<path d="M518.5 31H612A11 11 0 0 1 623 42V279H518.5Z" fill="#e9ebee"/>
<rect x="360" y="249" width="14" height="1.6" fill="#8a8a8a" opacity="0.7"/>
<path d="M518.5 31H612A11 11 0 0 1 623 42V279H518.5Z" fill="#e9ebee"/>
<rect x="462" y="249" width="30" height="1.6" fill="#8a8a8a" opacity="0.7"/>
<path d="M518.5 31H612A11 11 0 0 1 623 42V279H518.5Z" fill="#e9ebee"/>
<path d="M518.5 32.5H611A9.5 9.5 0 0 1 620.7 42V279" fill="none" stroke="#d4d6dc" stroke-width="0.8"/>
<rect x="525" y="39" width="91.5" height="41" rx="1.5" fill="#c0c9d5"/>
<rect x="525" y="39" width="91.5" height="5.3" rx="1" fill="#8f9cb1"/>
<rect x="525" y="86.4" width="45" height="57.6" rx="1.5" fill="#c0c9d5"/>
<rect x="571.3" y="86.4" width="45.2" height="57.6" rx="1.5" fill="#c0c9d5"/>
<rect x="525" y="86.4" width="45" height="5.7" rx="1" fill="#8f9cb1"/>
<rect x="571.3" y="86.4" width="45.2" height="5.7" rx="1" fill="#8f9cb1"/>
<text x="563" y="43.3" font-size="3.6" fill="#3d4656" class="s" font-weight="bold">Response</text>
<text x="538" y="90.6" font-size="3.6" fill="#3d4656" class="s" font-weight="bold">Stimulus</text>
<text x="587" y="90.6" font-size="3.6" fill="#3d4656" class="s" font-weight="bold">Utility</text>
<rect x="526.3" y="49.6" width="17" height="11.5" rx="2" fill="#8e96a2"/>
<rect x="526.3" y="48.4" width="17" height="11.2" rx="2" fill="#5c636e"/>
<text x="534.8" y="55.199999999999996" font-size="3.3" fill="#fff" text-anchor="middle" class="s" font-weight="bold">Meas</text>
<rect x="549.7" y="49.6" width="17" height="11.5" rx="2" fill="#8e96a2"/>
<rect x="549.7" y="48.4" width="17" height="11.2" rx="2" fill="#5c636e"/>
<text x="558.2" y="55.199999999999996" font-size="3.3" fill="#fff" text-anchor="middle" class="s" font-weight="bold">Format</text>
<rect x="573.2" y="49.6" width="17" height="11.5" rx="2" fill="#8e96a2"/>
<rect x="573.2" y="48.4" width="17" height="11.2" rx="2" fill="#f7f7f8"/>
<text x="581.7" y="55.199999999999996" font-size="3.3" fill="#333" text-anchor="middle" class="s" font-weight="bold">Marker</text>
<rect x="596.7" y="49.6" width="17" height="11.5" rx="2" fill="#8e96a2"/>
<rect x="596.7" y="48.4" width="17" height="11.2" rx="2" fill="#f7f7f8"/>
<text x="605.2" y="55.199999999999996" font-size="3.3" fill="#333" text-anchor="middle" class="s" font-weight="bold">Math</text>
<rect x="526.3" y="67.4" width="17" height="11.5" rx="2" fill="#8e96a2"/>
<rect x="526.3" y="66.2" width="17" height="11.2" rx="2" fill="#5c636e"/>
<text x="534.8" y="73.0" font-size="3.3" fill="#fff" text-anchor="middle" class="s" font-weight="bold">Scale</text>
<rect x="549.7" y="67.4" width="17" height="11.5" rx="2" fill="#8e96a2"/>
<rect x="549.7" y="66.2" width="17" height="11.2" rx="2" fill="#5c636e"/>
<text x="558.2" y="73.0" font-size="3.3" fill="#fff" text-anchor="middle" class="s" font-weight="bold">Cal</text>
<rect x="573.2" y="67.4" width="17" height="11.5" rx="2" fill="#8e96a2"/>
<rect x="573.2" y="66.2" width="17" height="11.2" rx="2" fill="#f7f7f8"/>
<text x="581.7" y="73.0" font-size="3.3" fill="#333" text-anchor="middle" class="s" font-weight="bold">Search</text>
<rect x="596.7" y="67.4" width="17" height="11.5" rx="2" fill="#8e96a2"/>
<rect x="596.7" y="66.2" width="17" height="11.2" rx="2" fill="#f7f7f8"/>
<text x="605.2" y="73.0" font-size="3.3" fill="#333" text-anchor="middle" class="s" font-weight="bold">Avg BW</text>
<rect x="526.3" y="96.10000000000001" width="17" height="11.5" rx="2" fill="#8e96a2"/>
<rect x="526.3" y="94.9" width="17" height="11.2" rx="2" fill="#f7f7f8"/>
<text x="534.8" y="101.7" font-size="3.3" fill="#333" text-anchor="middle" class="s" font-weight="bold">Start</text>
<rect x="549.7" y="96.10000000000001" width="17" height="11.5" rx="2" fill="#8e96a2"/>
<rect x="549.7" y="94.9" width="17" height="11.2" rx="2" fill="#f7f7f8"/>
<text x="558.2" y="101.7" font-size="3.3" fill="#333" text-anchor="middle" class="s" font-weight="bold">Stop</text>
<rect x="573.2" y="96.10000000000001" width="17" height="11.5" rx="2" fill="#8e96a2"/>
<rect x="573.2" y="94.9" width="17" height="11.2" rx="2" fill="#9aa2ad"/>
<text x="581.7" y="101.7" font-size="3.3" fill="#333" text-anchor="middle" class="s" font-weight="bold">System</text>
<rect x="596.7" y="96.10000000000001" width="17" height="11.5" rx="2" fill="#8e96a2"/>
<rect x="596.7" y="94.9" width="17" height="11.2" rx="2" fill="#1f7fe6"/>
<text x="605.2" y="101.7" font-size="3.3" fill="#fff" text-anchor="middle" class="s" font-weight="bold">Preset</text>
<rect x="526.3" y="113.9" width="17" height="11.5" rx="2" fill="#8e96a2"/>
<rect x="526.3" y="112.7" width="17" height="11.2" rx="2" fill="#f7f7f8"/>
<text x="534.8" y="119.5" font-size="3.3" fill="#333" text-anchor="middle" class="s" font-weight="bold">Freq</text>
<rect x="549.7" y="113.9" width="17" height="11.5" rx="2" fill="#8e96a2"/>
<rect x="549.7" y="112.7" width="17" height="11.2" rx="2" fill="#f7f7f8"/>
<text x="558.2" y="119.5" font-size="3.3" fill="#333" text-anchor="middle" class="s" font-weight="bold">Power</text>
<rect x="573.2" y="113.9" width="17" height="11.5" rx="2" fill="#8e96a2"/>
<rect x="573.2" y="112.7" width="17" height="11.2" rx="2" fill="#9aa2ad"/>
<text x="581.7" y="119.5" font-size="3.3" fill="#333" text-anchor="middle" class="s" font-weight="bold">Save</text>
<rect x="596.7" y="113.9" width="17" height="11.5" rx="2" fill="#8e96a2"/>
<rect x="596.7" y="112.7" width="17" height="11.2" rx="2" fill="#9aa2ad"/>
<text x="605.2" y="119.5" font-size="3.3" fill="#333" text-anchor="middle" class="s" font-weight="bold">Help</text>
<rect x="526.3" y="132.2" width="17" height="11.5" rx="2" fill="#8e96a2"/>
<rect x="526.3" y="131" width="17" height="11.2" rx="2" fill="#f7f7f8"/>
<text x="534.8" y="137.8" font-size="3.3" fill="#333" text-anchor="middle" class="s" font-weight="bold">Sweep</text>
<rect x="549.7" y="132.2" width="17" height="11.5" rx="2" fill="#8e96a2"/>
<rect x="549.7" y="131" width="17" height="11.2" rx="2" fill="#f7f7f8"/>
<text x="558.2" y="137.8" font-size="3.3" fill="#333" text-anchor="middle" class="s" font-weight="bold">Trigger</text>
<rect x="573.2" y="132.2" width="17" height="11.5" rx="2" fill="#8e96a2"/>
<rect x="573.2" y="131" width="17" height="11.2" rx="2" fill="#9aa2ad"/>
<text x="581.7" y="137.8" font-size="3.3" fill="#333" text-anchor="middle" class="s" font-weight="bold">Display</text>
<rect x="596.7" y="132.2" width="17" height="11.5" rx="2" fill="#8e96a2"/>
<rect x="596.7" y="131" width="17" height="11.2" rx="2" fill="#9aa2ad"/>
<text x="605.2" y="137.8" font-size="3.3" fill="#333" text-anchor="middle" class="s" font-weight="bold">Touch</text>
<rect x="596.7" y="131" width="17" height="11.2" rx="2" fill="none" stroke="#4fd0b0" stroke-width="0.8"/>
<circle cx="549.5" cy="178" r="20" fill="#d9dbdf"/>
<circle cx="549" cy="177" r="19" fill="url(#knobg)"/>
<circle cx="543.5" cy="170.5" r="7" fill="#eceef0" stroke="#d0d2d6" stroke-width="1"/>
<path d="M537.5 174A7 7 0 0 0 549 175" fill="none" stroke="#c4c6ca" stroke-width="1.2"/>
<rect x="594" y="155.5" width="12" height="12" rx="3" fill="#b5bcc6" stroke="#8e96a2" stroke-width="0.7"/>
<path d="M597.8 163.0L600 159.5L602.2 163.0Z" fill="#222"/>
<rect x="584.7" y="171" width="12" height="12" rx="3" fill="#b5bcc6" stroke="#8e96a2" stroke-width="0.7"/>
<path d="M592.2 174.8L588.7 177L592.2 179.2Z" fill="#222"/>
<rect x="601.4" y="171" width="12" height="12" rx="3" fill="#b5bcc6" stroke="#8e96a2" stroke-width="0.7"/>
<path d="M605.9 174.8L609.4 177L605.9 179.2Z" fill="#222"/>
<rect x="594" y="186.8" width="12" height="12" rx="3" fill="#b5bcc6" stroke="#8e96a2" stroke-width="0.7"/>
<path d="M597.8 191.3L600 194.8L602.2 191.3Z" fill="#222"/>
<rect x="525" y="209.4" width="65.7" height="68.6" rx="1.5" fill="#c9d0da"/>
<rect x="525.9" y="212.3" width="12.3" height="10.5" rx="1.5" fill="#9aa2ad"/>
<rect x="525.9" y="211.3" width="12.3" height="10.2" rx="1.5" fill="#f8f8f9"/>
<text x="532.05" y="217.9" font-size="4.2" fill="#333" text-anchor="middle" class="s" font-weight="bold">7</text>
<rect x="543.5" y="212.3" width="12.3" height="10.5" rx="1.5" fill="#9aa2ad"/>
<rect x="543.5" y="211.3" width="12.3" height="10.2" rx="1.5" fill="#f8f8f9"/>
<text x="549.65" y="217.9" font-size="4.2" fill="#333" text-anchor="middle" class="s" font-weight="bold">8</text>
<rect x="560.7" y="212.3" width="12.3" height="10.5" rx="1.5" fill="#9aa2ad"/>
<rect x="560.7" y="211.3" width="12.3" height="10.2" rx="1.5" fill="#f8f8f9"/>
<text x="566.85" y="217.9" font-size="4.2" fill="#333" text-anchor="middle" class="s" font-weight="bold">9</text>
<rect x="577.8" y="212.3" width="12.3" height="10.5" rx="1.5" fill="#9aa2ad"/>
<rect x="577.8" y="211.3" width="12.3" height="10.2" rx="1.5" fill="#f8f8f9"/>
<text x="583.9499999999999" y="217.9" font-size="3" fill="#333" text-anchor="middle" class="s" font-weight="bold">T/p</text>
<rect x="525.9" y="230.3" width="12.3" height="10.5" rx="1.5" fill="#9aa2ad"/>
<rect x="525.9" y="229.3" width="12.3" height="10.2" rx="1.5" fill="#f8f8f9"/>
<text x="532.05" y="235.9" font-size="4.2" fill="#333" text-anchor="middle" class="s" font-weight="bold">4</text>
<rect x="543.5" y="230.3" width="12.3" height="10.5" rx="1.5" fill="#9aa2ad"/>
<rect x="543.5" y="229.3" width="12.3" height="10.2" rx="1.5" fill="#f8f8f9"/>
<text x="549.65" y="235.9" font-size="4.2" fill="#333" text-anchor="middle" class="s" font-weight="bold">5</text>
<rect x="560.7" y="230.3" width="12.3" height="10.5" rx="1.5" fill="#9aa2ad"/>
<rect x="560.7" y="229.3" width="12.3" height="10.2" rx="1.5" fill="#f8f8f9"/>
<text x="566.85" y="235.9" font-size="4.2" fill="#333" text-anchor="middle" class="s" font-weight="bold">6</text>
<rect x="577.8" y="230.3" width="12.3" height="10.5" rx="1.5" fill="#9aa2ad"/>
<rect x="577.8" y="229.3" width="12.3" height="10.2" rx="1.5" fill="#f8f8f9"/>
<text x="583.9499999999999" y="235.9" font-size="3" fill="#333" text-anchor="middle" class="s" font-weight="bold">G/n</text>
<rect x="525.9" y="248" width="12.3" height="10.5" rx="1.5" fill="#9aa2ad"/>
<rect x="525.9" y="247" width="12.3" height="10.2" rx="1.5" fill="#f8f8f9"/>
<text x="532.05" y="253.6" font-size="4.2" fill="#333" text-anchor="middle" class="s" font-weight="bold">1</text>
<rect x="543.5" y="248" width="12.3" height="10.5" rx="1.5" fill="#9aa2ad"/>
<rect x="543.5" y="247" width="12.3" height="10.2" rx="1.5" fill="#f8f8f9"/>
<text x="549.65" y="253.6" font-size="4.2" fill="#333" text-anchor="middle" class="s" font-weight="bold">2</text>
<rect x="560.7" y="248" width="12.3" height="10.5" rx="1.5" fill="#9aa2ad"/>
<rect x="560.7" y="247" width="12.3" height="10.2" rx="1.5" fill="#f8f8f9"/>
<text x="566.85" y="253.6" font-size="4.2" fill="#333" text-anchor="middle" class="s" font-weight="bold">3</text>
<rect x="577.8" y="248" width="12.3" height="10.5" rx="1.5" fill="#9aa2ad"/>
<rect x="577.8" y="247" width="12.3" height="10.2" rx="1.5" fill="#f8f8f9"/>
<text x="583.9499999999999" y="253.6" font-size="3" fill="#333" text-anchor="middle" class="s" font-weight="bold">M/µ</text>
<rect x="525.9" y="266" width="12.3" height="10.5" rx="1.5" fill="#9aa2ad"/>
<rect x="525.9" y="265" width="12.3" height="10.2" rx="1.5" fill="#f8f8f9"/>
<text x="532.05" y="271.6" font-size="4.2" fill="#333" text-anchor="middle" class="s" font-weight="bold">0</text>
<rect x="543.5" y="266" width="12.3" height="10.5" rx="1.5" fill="#9aa2ad"/>
<rect x="543.5" y="265" width="12.3" height="10.2" rx="1.5" fill="#f8f8f9"/>
<text x="549.65" y="271.6" font-size="4.2" fill="#333" text-anchor="middle" class="s" font-weight="bold">.</text>
<rect x="560.7" y="266" width="12.3" height="10.5" rx="1.5" fill="#9aa2ad"/>
<rect x="560.7" y="265" width="12.3" height="10.2" rx="1.5" fill="#f8f8f9"/>
<text x="566.85" y="271.6" font-size="3" fill="#333" text-anchor="middle" class="s" font-weight="bold">+/-</text>
<rect x="577.8" y="266" width="12.3" height="10.5" rx="1.5" fill="#9aa2ad"/>
<rect x="577.8" y="265" width="12.3" height="10.2" rx="1.5" fill="#f8f8f9"/>
<text x="583.9499999999999" y="271.6" font-size="3" fill="#333" text-anchor="middle" class="s" font-weight="bold">k/m</text>
<rect x="596.3" y="212.3" width="16.7" height="10.5" rx="1.5" fill="#8e96a2"/>
<rect x="596.3" y="211.3" width="16.7" height="10.2" rx="1.5" fill="#b9c0cb"/>
<text x="604.6" y="217.8" font-size="3" fill="#333" text-anchor="middle" class="s" font-weight="bold">Esc</text>
<rect x="596.3" y="230.3" width="16.7" height="10.5" rx="1.5" fill="#8e96a2"/>
<rect x="596.3" y="229.3" width="16.7" height="10.2" rx="1.5" fill="#b9c0cb"/>
<text x="604.6" y="235.8" font-size="3" fill="#333" text-anchor="middle" class="s" font-weight="bold">Back</text>
<rect x="596.3" y="248" width="16.7" height="10.5" rx="1.5" fill="#8e96a2"/>
<rect x="596.3" y="247" width="16.7" height="10.2" rx="1.5" fill="#b9c0cb"/>
<text x="604.6" y="253.5" font-size="3" fill="#333" text-anchor="middle" class="s" font-weight="bold">Tab</text>
<rect x="596.3" y="266" width="16.7" height="10.5" rx="1.5" fill="#8e96a2"/>
<rect x="596.3" y="265" width="16.7" height="10.2" rx="1.5" fill="#5c636e"/>
<text x="604.6" y="271.5" font-size="3" fill="#fff" text-anchor="middle" class="s" font-weight="bold">Enter</text>
<rect x="169" y="305" width="35" height="8" fill="#8e9aae"/>
<text x="186.5" y="311.6" font-size="6.3" fill="#fff" text-anchor="middle" class="s" font-weight="bold">SNA5032A</text>
<rect x="169" y="313.5" width="35" height="5.3" fill="#9aa5b7"/>
<text x="186.5" y="317.6" font-size="3.6" fill="#fff" text-anchor="middle" class="s">100 kHz-26.5 GHz</text>
<rect x="178.5" y="325.3" width="11.4" height="21.2" rx="3" fill="#cfd4dc" stroke="#b6bcc6" stroke-width="0.8"/>
<rect x="181" y="328" width="6.4" height="15.5" rx="2" fill="#9aa6b8"/>
<circle cx="184.2" cy="335.8" r="1.6" fill="none" stroke="#fff" stroke-width="0.6"/>
<text x="233.8" y="309.3" font-size="4" fill="#444b57" text-anchor="middle" class="s" font-weight="bold">PORT 1</text>
<circle cx="233.8" cy="313.8" r="1.1" fill="#e0b030"/>
<circle cx="233.8" cy="331.8" r="14.5" fill="url(#conng)" stroke="#8a8b8e" stroke-width="1"/>
<circle cx="233.8" cy="331.8" r="10.5" fill="none" stroke="#8e8f93" stroke-width="1.2"/>
<circle cx="233.8" cy="331.8" r="7" fill="#d9dadd" stroke="#8a8b8f" stroke-width="0.8"/>
<circle cx="233.8" cy="331.8" r="3.6" fill="#9b9ca1"/>
<rect x="217.3" y="347.8" width="33.5" height="12.5" rx="1" fill="#f3c31a"/>
<path d="M220.8 353.6l2 -3.6l2 3.6z" fill="none" stroke="#6a4a00" stroke-width="0.5"/>
<text x="235.8" y="353.3" font-size="4" fill="#6a4a00" text-anchor="middle" class="s">+27 dBm RF</text>
<text x="236.8" y="358.3" font-size="4" fill="#6a4a00" text-anchor="middle" class="s">35 VDC Max</text>
<text x="484.4" y="307.7" font-size="4" fill="#444b57" text-anchor="middle" class="s" font-weight="bold">PORT 2</text>
<circle cx="484.4" cy="312.2" r="1.1" fill="#666"/>
<circle cx="484.4" cy="330.2" r="14.5" fill="url(#conng)" stroke="#8a8b8e" stroke-width="1"/>
<circle cx="484.4" cy="330.2" r="10.5" fill="none" stroke="#8e8f93" stroke-width="1.2"/>
<circle cx="484.4" cy="330.2" r="7" fill="#d9dadd" stroke="#8a8b8f" stroke-width="0.8"/>
<circle cx="484.4" cy="330.2" r="3.6" fill="#9b9ca1"/>
<rect x="467.9" y="346.2" width="33.5" height="12.5" rx="1" fill="#f3c31a"/>
<path d="M471.4 352.0l2 -3.6l2 3.6z" fill="none" stroke="#6a4a00" stroke-width="0.5"/>
<text x="486.4" y="351.7" font-size="4" fill="#6a4a00" text-anchor="middle" class="s">+27 dBm RF</text>
<text x="487.4" y="356.7" font-size="4" fill="#6a4a00" text-anchor="middle" class="s">35 VDC Max</text>
<rect x="539.8" y="320.8" width="18.8" height="8.8" rx="1" fill="#6b6d72"/>
<rect x="541.8" y="322.8" width="14.8" height="4.8" fill="#f4f4f4"/>
<rect x="541.8" y="325.8" width="14.8" height="1.8" fill="#8a8c90"/>
<rect x="539.8" y="333.3" width="18.8" height="8.8" rx="1" fill="#6b6d72"/>
<rect x="541.8" y="335.3" width="14.8" height="4.8" fill="#f4f4f4"/>
<rect x="541.8" y="338.3" width="14.8" height="1.8" fill="#8a8c90"/>
<rect x="569.5" y="320.8" width="18.8" height="8.8" rx="1" fill="#6b6d72"/>
<rect x="571.5" y="322.8" width="14.8" height="4.8" fill="#f4f4f4"/>
<rect x="571.5" y="325.8" width="14.8" height="1.8" fill="#8a8c90"/>
<rect x="569.5" y="333.3" width="18.8" height="8.8" rx="1" fill="#6b6d72"/>
<rect x="571.5" y="335.3" width="14.8" height="4.8" fill="#f4f4f4"/>
<rect x="571.5" y="338.3" width="14.8" height="1.8" fill="#8a8c90"/>
<path d="M558 314.5H572M572 314.5l-2.5 -1.5v3z M561 314.5l3 -2.5h3 M563 314.5l3 2h2" stroke="#333" stroke-width="0.9" fill="#333"/>
<circle cx="558" cy="314.5" r="1.3" fill="#333"/>
<defs><linearGradient id="chtop" x1="0" y1="0" x2="1" y2="0"><stop offset="0" stop-color="#fff"/><stop offset="0.06" stop-color="#b0b0ae"/><stop offset="0.94" stop-color="#a8a8a6"/><stop offset="1" stop-color="#fff"/></linearGradient></defs>
<rect x="175" y="364.5" width="410" height="8" fill="url(#chtop)"/>
<path d="M212.7 365.2H284L281 371.8H212.7Z" fill="#0c0d10"/>
<path d="M498.4 365.2H569.2V371.8H501Z" fill="#0c0d10"/>
<defs><linearGradient id="hdl" x1="0" y1="0" x2="1" y2="0"><stop offset="0" stop-color="#4a4a45"/><stop offset="0.25" stop-color="#5b5b55"/><stop offset="1" stop-color="#4e4e49"/></linearGradient><linearGradient id="hdr" x1="0" y1="0" x2="1" y2="0"><stop offset="0" stop-color="#4e4e49"/><stop offset="0.75" stop-color="#5b5b55"/><stop offset="1" stop-color="#4a4a45"/></linearGradient><radialGradient id="brass" cx="0.45" cy="0.4" r="0.6"><stop offset="0" stop-color="#f0dcaa"/><stop offset="0.55" stop-color="#c9a266"/><stop offset="1" stop-color="#7d6238"/></radialGradient></defs>
<rect x="219" y="458" width="41" height="16" rx="2" fill="#1c1c1c"/>
<rect x="517" y="458" width="42" height="16" rx="2" fill="#1c1c1c"/>
<path d="M167.5 371.2H123A12 12 0 0 0 110.8 383.2V453.5A12 12 0 0 0 123 465.5H167.5Z" fill="#4f4f4a"/>
<path d="M123 372.5A11 11 0 0 0 112.3 383.5V453A11 11 0 0 0 123 464" fill="none" stroke="#6b6b65" stroke-width="2.2"/>
<rect x="128.5" y="386.6" width="31" height="63.7" rx="5.5" fill="#3e3e3a"/>
<rect x="128.5" y="387.6" width="30" height="62.2" rx="5" fill="#fff"/>
<path d="M130 450.8H158" stroke="#6a6a64" stroke-width="1.6"/>
<rect x="159.7" y="371.5" width="7.5" height="94" fill="#55554f"/>
<path d="M611 371H656A12 12 0 0 1 668.3 383V454A12 12 0 0 1 656 466.3H611Z" fill="#4f4f4a"/>
<path d="M656 372.3A11 11 0 0 1 666.8 383.3V453.5A11 11 0 0 1 656 465" fill="none" stroke="#65655f" stroke-width="2.2"/>
<rect x="618.5" y="386.6" width="31.5" height="63.9" rx="5.5" fill="#3e3e3a"/>
<rect x="619.2" y="387.4" width="30.4" height="62.6" rx="5" fill="#fff"/>
<path d="M621 451H648" stroke="#6a6a64" stroke-width="1.6"/>
<rect x="611" y="371.5" width="7.5" height="94" fill="#55554f"/>
<rect x="166.5" y="372.5" width="445" height="90" fill="#4a4a46"/>
<rect x="166.5" y="372.5" width="445" height="1.5" fill="#5a5a55"/>
<line x1="167" y1="372.5" x2="167" y2="462.5" stroke="#3c3c39" stroke-width="1"/>
<line x1="611" y1="372.5" x2="611" y2="462.5" stroke="#3c3c39" stroke-width="1"/>
<rect x="184" y="376" width="65.3" height="41" fill="#0b0b0d"/>
<circle cx="187.6" cy="380.2" r="1.3" fill="none" stroke="#ddd" stroke-width="0.5"/>
<text x="189.5" y="381.5" font-size="3.6" fill="#ddd" class="s" font-weight="bold">SIGLENT  SSM5124A  9kHz-8GHz</text>
<text x="188" y="388.5" font-size="3.8" fill="#5aa8e0" class="s">SSM5124A</text>
<line x1="187" y1="390.5" x2="246" y2="390.5" stroke="#5aa8e0" stroke-width="0.5"/>
<line x1="187" y1="405.5" x2="246" y2="405.5" stroke="#5aa8e0" stroke-width="0.5"/>
<line x1="203" y1="390.5" x2="203" y2="410" stroke="#5aa8e0" stroke-width="0.5"/>
<text x="188" y="394.5" font-size="3.5" fill="#5aa8e0" class="s">Serial</text>
<text x="205" y="394.5" font-size="3.5" fill="#5aa8e0" class="s">SSM5124A0000000</text>
<text x="188" y="399.0" font-size="3.5" fill="#5aa8e0" class="s">IP</text>
<text x="205" y="399.0" font-size="3.5" fill="#5aa8e0" class="s">0.0.0.0</text>
<text x="188" y="403.5" font-size="3.5" fill="#5aa8e0" class="s">USB</text>
<text x="205" y="403.5" font-size="3.5" fill="#5aa8e0" class="s">no link</text>
<text x="188" y="409.0" font-size="3.5" fill="#5aa8e0" class="s">Status</text>
<text x="205" y="409.0" font-size="3.5" fill="#5aa8e0" class="s">All Off</text>
<circle cx="193" cy="425.5" r="0.6" fill="#222"/>
<text x="196" y="426.5" font-size="2.6" fill="#bbb" class="s">RMT</text>
<circle cx="193" cy="433" r="0.6" fill="#222"/>
<text x="196" y="434" font-size="2.6" fill="#bbb" class="s">ERR</text>
<circle cx="193" cy="439" r="0.6" fill="#222"/>
<text x="196" y="440" font-size="2.6" fill="#bbb" class="s">LAN</text>
<circle cx="221.5" cy="438" r="6.3" fill="#3a3a37" stroke="#2c2c2a" stroke-width="1"/>
<circle cx="220.5" cy="437" r="4.5" fill="#454541"/>
<circle cx="193" cy="450" r="3.5" fill="#2a2a28"/>
<path d="M191.6 448.4A2 2 0 1 0 194.4 448.4M193 447V450" fill="none" stroke="#ddd" stroke-width="0.6"/>
<circle cx="174.5" cy="456" r="1.2" fill="#111"/>
<circle cx="603.6" cy="456" r="1.2" fill="#111"/>
<line x1="250.4" y1="401.3" x2="329" y2="401.3" stroke="#62625d" stroke-width="0.7"/>
<line x1="502" y1="401.3" x2="573.6" y2="401.3" stroke="#62625d" stroke-width="0.7"/>
<path d="M334.5 403L337.3 398.2L340.1 403Z" fill="#e5d030"/>
<text x="342" y="403" font-size="4.3" fill="#e4e4e4" class="s" font-weight="bold">ALL PORTS +20 dBm RF MAX 35 VDC MAX  &amp;</text>
<path d="M434.5 403L437.3 398.2L440.1 403Z" fill="#c8b24a"/>
<text x="442" y="403" font-size="4.3" fill="#e4e4e4" class="s" font-weight="bold">AVOID STATIC DISCHARGE</text>
<rect x="251.7" y="408.4" width="170.6" height="22.8" rx="1" fill="#474743" stroke="#5e5e59" stroke-width="0.8"/>
<rect x="251.7" y="433.8" width="170.6" height="22.8" rx="1" fill="#474743" stroke="#5e5e59" stroke-width="0.8"/>
<rect x="425.2" y="408.4" width="171.8" height="22.8" rx="1" fill="#474743" stroke="#5e5e59" stroke-width="0.8"/>
<rect x="425.2" y="433.8" width="171.8" height="22.8" rx="1" fill="#474743" stroke="#5e5e59" stroke-width="0.8"/>
<circle cx="259.5" cy="417.9" r="3.8" fill="url(#brass)"/>
<circle cx="259.5" cy="417.9" r="1.6" fill="#b08850"/>
<text x="267.5" y="422.4" font-size="3.6" fill="#aab" class="s">13</text>
<circle cx="259.5" cy="447.5" r="3.8" fill="url(#brass)"/>
<circle cx="259.5" cy="447.5" r="1.6" fill="#b08850"/>
<text x="267.5" y="452.0" font-size="3.6" fill="#aab" class="s">1</text>
<circle cx="288.4" cy="417.9" r="3.8" fill="url(#brass)"/>
<circle cx="288.4" cy="417.9" r="1.6" fill="#b08850"/>
<text x="296.4" y="422.4" font-size="3.6" fill="#aab" class="s">14</text>
<circle cx="288.4" cy="447.5" r="3.8" fill="url(#brass)"/>
<circle cx="288.4" cy="447.5" r="1.6" fill="#b08850"/>
<text x="296.4" y="452.0" font-size="3.6" fill="#aab" class="s">2</text>
<circle cx="317.5" cy="417.9" r="3.8" fill="url(#brass)"/>
<circle cx="317.5" cy="417.9" r="1.6" fill="#b08850"/>
<text x="325.5" y="422.4" font-size="3.6" fill="#aab" class="s">15</text>
<circle cx="317.5" cy="447.5" r="3.8" fill="url(#brass)"/>
<circle cx="317.5" cy="447.5" r="1.6" fill="#b08850"/>
<text x="325.5" y="452.0" font-size="3.6" fill="#aab" class="s">3</text>
<circle cx="346.5" cy="417.9" r="3.8" fill="url(#brass)"/>
<circle cx="346.5" cy="417.9" r="1.6" fill="#b08850"/>
<text x="354.5" y="422.4" font-size="3.6" fill="#aab" class="s">16</text>
<circle cx="346.5" cy="447.5" r="3.8" fill="url(#brass)"/>
<circle cx="346.5" cy="447.5" r="1.6" fill="#b08850"/>
<text x="354.5" y="452.0" font-size="3.6" fill="#aab" class="s">4</text>
<circle cx="375.7" cy="417.9" r="3.8" fill="url(#brass)"/>
<circle cx="375.7" cy="417.9" r="1.6" fill="#b08850"/>
<text x="383.7" y="422.4" font-size="3.6" fill="#aab" class="s">17</text>
<circle cx="375.7" cy="447.5" r="3.8" fill="url(#brass)"/>
<circle cx="375.7" cy="447.5" r="1.6" fill="#b08850"/>
<text x="383.7" y="452.0" font-size="3.6" fill="#aab" class="s">5</text>
<circle cx="404.7" cy="417.9" r="3.8" fill="url(#brass)"/>
<circle cx="404.7" cy="417.9" r="1.6" fill="#b08850"/>
<text x="412.7" y="422.4" font-size="3.6" fill="#aab" class="s">18</text>
<circle cx="404.7" cy="447.5" r="3.8" fill="url(#brass)"/>
<circle cx="404.7" cy="447.5" r="1.6" fill="#b08850"/>
<text x="412.7" y="452.0" font-size="3.6" fill="#aab" class="s">6</text>
<circle cx="433.7" cy="417.9" r="3.8" fill="url(#brass)"/>
<circle cx="433.7" cy="417.9" r="1.6" fill="#b08850"/>
<text x="441.7" y="422.4" font-size="3.6" fill="#aab" class="s">19</text>
<circle cx="433.7" cy="447.5" r="3.8" fill="url(#brass)"/>
<circle cx="433.7" cy="447.5" r="1.6" fill="#b08850"/>
<text x="441.7" y="452.0" font-size="3.6" fill="#aab" class="s">7</text>
<circle cx="463" cy="417.9" r="3.8" fill="url(#brass)"/>
<circle cx="463" cy="417.9" r="1.6" fill="#b08850"/>
<text x="471" y="422.4" font-size="3.6" fill="#aab" class="s">20</text>
<circle cx="463" cy="447.5" r="3.8" fill="url(#brass)"/>
<circle cx="463" cy="447.5" r="1.6" fill="#b08850"/>
<text x="471" y="452.0" font-size="3.6" fill="#aab" class="s">8</text>
<circle cx="492" cy="417.9" r="3.8" fill="url(#brass)"/>
<circle cx="492" cy="417.9" r="1.6" fill="#b08850"/>
<text x="500" y="422.4" font-size="3.6" fill="#aab" class="s">21</text>
<circle cx="492" cy="447.5" r="3.8" fill="url(#brass)"/>
<circle cx="492" cy="447.5" r="1.6" fill="#b08850"/>
<text x="500" y="452.0" font-size="3.6" fill="#aab" class="s">9</text>
<circle cx="520.9" cy="417.9" r="3.8" fill="url(#brass)"/>
<circle cx="520.9" cy="417.9" r="1.6" fill="#b08850"/>
<text x="528.9" y="422.4" font-size="3.6" fill="#aab" class="s">22</text>
<circle cx="520.9" cy="447.5" r="3.8" fill="url(#brass)"/>
<circle cx="520.9" cy="447.5" r="1.6" fill="#b08850"/>
<text x="528.9" y="452.0" font-size="3.6" fill="#aab" class="s">10</text>
<circle cx="550.2" cy="417.9" r="3.8" fill="url(#brass)"/>
<circle cx="550.2" cy="417.9" r="1.6" fill="#b08850"/>
<text x="558.2" y="422.4" font-size="3.6" fill="#aab" class="s">23</text>
<circle cx="550.2" cy="447.5" r="3.8" fill="url(#brass)"/>
<circle cx="550.2" cy="447.5" r="1.6" fill="#b08850"/>
<text x="558.2" y="452.0" font-size="3.6" fill="#aab" class="s">11</text>
<circle cx="579.5" cy="417.9" r="3.8" fill="url(#brass)"/>
<circle cx="579.5" cy="417.9" r="1.6" fill="#b08850"/>
<text x="587.5" y="422.4" font-size="3.6" fill="#aab" class="s">24</text>
<circle cx="579.5" cy="447.5" r="3.8" fill="url(#brass)"/>
<circle cx="579.5" cy="447.5" r="1.6" fill="#b08850"/>
<text x="587.5" y="452.0" font-size="3.6" fill="#aab" class="s">12</text>
<rect x="576.3" y="382.4" width="11.7" height="11.6" rx="1" fill="#c9c9c9"/>
<rect x="578" y="385" width="8.3" height="5" rx="1" fill="#f4f4f4"/>
<rect x="577.5" y="390.5" width="9.3" height="2.5" fill="#777"/>
<path d="M578 401H587M587 401l-2 -1.2v2.4z M580 401l2 -2h2 M581.5 401l2 1.6h1.5" stroke="#ddd" stroke-width="0.7" fill="#ddd"/>
<path d="M234.5 337C240 355 262 378 284 388Q290 391 294 389" fill="none" stroke="#b9b0d2" stroke-width="2.4"/>
<path d="M234.5 337C240 355 262 378 284 388Q290 391 294 389" fill="none" stroke="#ddd6ee" stroke-width="1"/>
<path d="M486 336C494 352 508 372 520 385Q525 389 528 386" fill="none" stroke="#b9b0d2" stroke-width="2.4"/>
<path d="M486 336C494 352 508 372 520 385Q525 389 528 386" fill="none" stroke="#ddd6ee" stroke-width="1"/>
<circle cx="296" cy="388.2" r="4.2" fill="#3a3a38"/>
<circle cx="296" cy="388.2" r="3" fill="#a9a9ae"/>
<circle cx="295.5" cy="387.7" r="1.5" fill="#d6d6da"/>
<text x="304.5" y="394" font-size="5" fill="#ddd" class="s" font-weight="bold">A</text>
<circle cx="528.5" cy="385.8" r="4.2" fill="#3a3a38"/>
<circle cx="528.5" cy="385.8" r="3" fill="#a9a9ae"/>
<circle cx="528.0" cy="385.3" r="1.5" fill="#d6d6da"/>
<text x="535" y="393" font-size="5" fill="#ddd" class="s" font-weight="bold">B</text>
<defs><linearGradient id="glare" x1="0.05" y1="0.85" x2="0.85" y2="0"><stop offset="0" stop-color="#3a3a3a"/><stop offset="0.5" stop-color="#7d7d7d"/><stop offset="1" stop-color="#a9a9a9"/></linearGradient><linearGradient id="glareL" x1="0" y1="0" x2="1" y2="0"><stop offset="0" stop-color="#000" stop-opacity="0.35"/><stop offset="0.5" stop-color="#000" stop-opacity="0"/><stop offset="1" stop-color="#fff" stop-opacity="0.05"/></linearGradient><linearGradient id="neck" x1="0" y1="0" x2="1" y2="0"><stop offset="0" stop-color="#333"/><stop offset="0.2" stop-color="#1a1a1a"/><stop offset="1" stop-color="#151515"/></linearGradient><linearGradient id="base" x1="0" y1="0" x2="0" y2="1"><stop offset="0" stop-color="#3a3a3a"/><stop offset="0.6" stop-color="#222"/><stop offset="1" stop-color="#111"/></linearGradient><linearGradient id="refl" x1="0" y1="0" x2="0" y2="1"><stop offset="0" stop-color="#e6e6e6"/><stop offset="1" stop-color="#fff"/></linearGradient></defs>
<path d="M985.5 298H1027L1025 314H988Z" fill="url(#refl)"/>
<ellipse cx="1000" cy="288.8" rx="51.4" ry="8.6" fill="#161616"/>
<path d="M948.6 285A51.4 8.4 0 0 0 1051.3 285" fill="none" stroke="#8a8a8a" stroke-width="0.9"/>
<ellipse cx="1000" cy="281.7" rx="51.4" ry="8.4" fill="#2d2c2d"/>
<path d="M1000 284L1052 286L1040 289Z" fill="#3a3a3a" opacity="0.6"/>
<path d="M985.6 249.7H1026L1031 280.7Q1008 284 985.6 280.7Z" fill="#121212"/>
<path d="M1019 250H1026L1031 280.7L1020 281.5Z" fill="#2a2a2a"/>
<path d="M909.1 106.1L1105.8 102.3L1100 253.5L895.7 242Z" fill="#333"/>
<path d="M1101.5 102.6L1108.5 101.6L1102.8 254L1097 253.7Z" fill="#a9a9a9"/>
<path d="M1103.5 102.4L1108.5 101.6L1102.8 254L1099.5 253.8Z" fill="#dedede"/>
<path d="M895.7 242L1100 253.5L1100 255.5L896 244Z" fill="#9a9a9a"/>
<path d="M912.9 111.2L1099.1 108.75L1092.4 243.6L900.5 232.9Z" fill="#050505"/>
<path d="M912.9 111.2L1099.1 108.75L1096.3 183.8L911 143.7Z" fill="url(#glare)"/>
<circle cx="1045" cy="246.5" r="0.7" fill="#777"/>
<circle cx="1052" cy="246.8" r="0.7" fill="#777"/>
<circle cx="1061" cy="247.3" r="0.7" fill="#777"/>
<circle cx="1070" cy="247.8" r="0.7" fill="#777"/>
<circle cx="1079" cy="248.2" r="0.7" fill="#777"/>
<path d="M1115.3 162Q1115.3 159.9 1118 159.9H1156Q1159.2 159.9 1159.2 162V295Q1159.2 297.2 1156 297.2H1118Q1115.3 297.2 1115.3 295Z" fill="#1a1a1a"/>
<rect x="1148.5" y="161" width="10.7" height="136" fill="#262626"/>
<rect x="1115.3" y="160" width="12" height="137" fill="#3b3b3b"/>
<rect x="1118" y="166" width="9" height="68" fill="#6a6a6a"/>
<rect x="1119" y="167" width="7" height="66" fill="#8a8a8a"/>
<rect x="1120.5" y="186" width="3" height="4" fill="#555"/>
<rect x="1120.5" y="210" width="4" height="8" fill="#bbb"/>
<path d="M1127 297V175Q1127 162 1142 161H1148.5V297Z" fill="#080808"/>
<path d="M1127 180Q1128 163 1140 161.5L1146 161.3Q1133 165 1130 180Z" fill="#9a9a9a"/>
<ellipse cx="1140.4" cy="188.6" rx="1.3" ry="2.2" fill="none" stroke="#666" stroke-width="0.6"/>
<rect x="1138" y="210" width="3" height="0.7" fill="#888"/><rect x="1138" y="213" width="3" height="0.7" fill="#888"/>
<circle cx="1139.5" cy="227.2" r="3.7" fill="#777"/>
<circle cx="1139.8" cy="227.4" r="2.8" fill="#e6e6e6"/>
<circle cx="1138.8" cy="226.5" r="1.2" fill="#555"/>
<defs><linearGradient id="silv" x1="0" y1="0" x2="0" y2="1"><stop offset="0" stop-color="#8e8f92"/><stop offset="0.3" stop-color="#f0f0f0"/><stop offset="0.55" stop-color="#c4c5c8"/><stop offset="1" stop-color="#6e6f72"/></linearGradient><linearGradient id="silvv" x1="0" y1="0" x2="1" y2="0"><stop offset="0" stop-color="#808184"/><stop offset="0.3" stop-color="#f2f2f2"/><stop offset="0.6" stop-color="#bfc0c3"/><stop offset="1" stop-color="#6a6b6e"/></linearGradient><linearGradient id="capg" x1="0" y1="0" x2="1" y2="0"><stop offset="0" stop-color="#111"/><stop offset="0.35" stop-color="#3a3a3a"/><stop offset="0.6" stop-color="#111"/><stop offset="1" stop-color="#000"/></linearGradient></defs>
<path d="M1244 273.5H1262L1266 278V288L1262 292.8H1244Z" fill="url(#silv)"/>
<line x1="1244" y1="283" x2="1266" y2="283" stroke="#555" stroke-width="0.8"/>
<ellipse cx="1242" cy="283" rx="4.2" ry="10" fill="#3a3634"/>
<ellipse cx="1242.8" cy="283" rx="2.6" ry="7.5" fill="#8a8276"/>
<rect x="1327" y="275" width="16" height="19.5" rx="2" fill="url(#silv)"/>
<rect x="1255" y="242.4" width="73.1" height="146.3" rx="6" fill="#6e6b6b"/>
<rect x="1268" y="243.5" width="4" height="144" fill="#858181"/>
<rect x="1271.7" y="243.5" width="56" height="144" rx="4" fill="#5d5d5f"/>
<rect x="1255" y="242.4" width="73.1" height="3" rx="1.5" fill="#88888a"/>
<rect x="1274.4" y="276.7" width="52.8" height="12" fill="#3c3c3e"/>
<rect x="1274.4" y="340.6" width="52.8" height="12" fill="#3c3c3e"/>
<text x="1277.5" y="286" font-size="8" fill="#eee" class="s">A</text>
<text x="1319.5" y="286" font-size="8" fill="#eee" class="s">B</text>
<circle cx="1290.5" cy="257.8" r="1.7" fill="none" stroke="#ddd" stroke-width="0.5" stroke-dasharray="0.8 0.5"/>
<text x="1302" y="259.5" font-size="4.5" fill="#e6e6e6" text-anchor="middle" class="s" font-weight="bold">SIGLENT</text>
<text x="1300" y="266" font-size="2.8" fill="#ddd" text-anchor="middle" class="s">SEM5012A  9kHz-4GHz</text>
<text x="1300" y="270" font-size="2.8" fill="#ddd" text-anchor="middle" class="s">ECal Module</text>
<text x="1288" y="300.5" font-size="2.6" fill="#ccc" class="s">WAIT</text>
<text x="1306" y="300.5" font-size="2.6" fill="#ccc" class="s">READY</text>
<path d="M1286.5 316L1288.6 312.3L1290.7 316Z" fill="#f2d22a"/>
<text x="1291.5" y="316" font-size="4.3" fill="#eee" class="s" font-weight="bold">CAUTION</text>
<text x="1300" y="320.5" font-size="2.6" fill="#ddd" text-anchor="middle" class="s">±20VDC / +20dBm MAX</text>
<text x="1300" y="324.5" font-size="2.6" fill="#ddd" text-anchor="middle" class="s">AVOID STATIC DISCHARGE</text>
<text x="1300" y="329" font-size="2.3" fill="#bbb" text-anchor="middle" class="s">Connector care is critical for</text>
<text x="1300" y="332.5" font-size="2.3" fill="#bbb" text-anchor="middle" class="s">achieving specified performance</text>
<text x="1300" y="372" font-size="3" fill="#ddd" text-anchor="middle" class="s" font-weight="bold">www.siglent.com</text>
<rect x="1366" y="292" width="8" height="7.5" rx="1" fill="url(#silv)"/>
<rect x="1366" y="357.7" width="8" height="7.5" rx="1" fill="url(#silv)"/>
<rect x="1450" y="290.5" width="10" height="8" fill="url(#silv)"/>
<rect x="1458" y="287.5" width="11.4" height="13" rx="1.5" fill="url(#silv)"/>
<rect x="1450" y="361" width="10" height="8" fill="url(#silv)"/>
<rect x="1458" y="358" width="11.4" height="13" rx="1.5" fill="url(#silv)"/>
<rect x="1373.5" y="246.3" width="84.4" height="162.5" rx="6" fill="#7a7a7c"/>
<rect x="1373.5" y="247.5" width="69" height="160.5" rx="5" fill="#5f5f61"/>
<rect x="1373.5" y="246.3" width="84.4" height="3" rx="1.5" fill="#8e8e90"/>
<rect x="1376.7" y="286.9" width="62.5" height="14.6" fill="#3c3c3e"/>
<rect x="1376.7" y="356.7" width="62.5" height="13.5" fill="#3c3c3e"/>
<text x="1379.5" y="297" font-size="9" fill="#eee" class="s">A</text>
<text x="1429.5" y="297" font-size="9" fill="#eee" class="s">B</text>
<text x="1379.5" y="367" font-size="9" fill="#eee" class="s">C</text>
<text x="1429.5" y="367" font-size="9" fill="#eee" class="s">D</text>
<circle cx="1394.5" cy="262.5" r="2" fill="none" stroke="#ddd" stroke-width="0.6" stroke-dasharray="0.9 0.6"/>
<text x="1408.5" y="264.5" font-size="5.2" fill="#e6e6e6" text-anchor="middle" class="s" font-weight="bold">SIGLENT</text>
<text x="1407" y="272" font-size="3" fill="#ddd" text-anchor="middle" class="s">SEM5034A  9kHz-4GHz</text>
<text x="1407" y="276.5" font-size="3" fill="#ddd" text-anchor="middle" class="s">ECal Module</text>
<text x="1391" y="312" font-size="2.8" fill="#ccc" class="s">WAIT</text>
<text x="1413" y="312" font-size="2.8" fill="#ccc" class="s">READY</text>
<path d="M1391 328.5L1393.4 324.3L1395.8 328.5Z" fill="#f2d22a"/>
<text x="1396.5" y="328.5" font-size="5" fill="#eee" class="s" font-weight="bold">CAUTION</text>
<text x="1407" y="333.5" font-size="2.9" fill="#ddd" text-anchor="middle" class="s">±20VDC / +20dBm MAX</text>
<text x="1407" y="338" font-size="2.9" fill="#ddd" text-anchor="middle" class="s">AVOID STATIC DISCHARGE</text>
<text x="1407" y="343" font-size="2.5" fill="#bbb" text-anchor="middle" class="s">Connector care is critical for</text>
<text x="1407" y="347" font-size="2.5" fill="#bbb" text-anchor="middle" class="s">achieving specified performance</text>
<text x="1407" y="392" font-size="3.4" fill="#ddd" text-anchor="middle" class="s" font-weight="bold">www.siglent.com</text>
<rect x="1331.8" y="597" width="33.1" height="21.8" rx="4" fill="url(#silvv)"/>
<line x1="1332.5" y1="602" x2="1364" y2="602" stroke="#8a8b8e" stroke-width="0.8"/>
<line x1="1332.5" y1="607" x2="1364" y2="607" stroke="#8a8b8e" stroke-width="0.8"/>
<line x1="1332.5" y1="612" x2="1364" y2="612" stroke="#8a8b8e" stroke-width="0.8"/>
<rect x="1339.3" y="588" width="19.6" height="11" fill="url(#silvv)"/>
<rect x="1334.8" y="556" width="27.1" height="34" rx="3" fill="url(#silvv)"/>
<line x1="1340" y1="562" x2="1340" y2="588" stroke="#9a9b9e" stroke-width="0.7"/>
<line x1="1345" y1="562" x2="1345" y2="588" stroke="#9a9b9e" stroke-width="0.7"/>
<line x1="1351" y1="562" x2="1351" y2="588" stroke="#9a9b9e" stroke-width="0.7"/>
<line x1="1356" y1="562" x2="1356" y2="588" stroke="#9a9b9e" stroke-width="0.7"/>
<rect x="1333.3" y="549.6" width="30.1" height="14" rx="5" fill="url(#silvv)"/>
<ellipse cx="1348.3" cy="556.5" rx="12.5" ry="5.5" fill="#6a6b6e"/>
<ellipse cx="1348.3" cy="557" rx="9" ry="4" fill="#3a3a3c"/>
<circle cx="1348.3" cy="557" r="1.6" fill="#bbb"/>
<rect x="1287" y="632" width="29.90000000000009" height="24.200000000000045" rx="6" fill="url(#silvv)"/>
<ellipse cx="1301.0" cy="652.2" rx="13.950000000000045" ry="4" fill="none" stroke="#8a8b8e" stroke-width="0.8"/>
<ellipse cx="1301.0" cy="639" rx="13.950000000000045" ry="4" fill="none" stroke="#8a8b8e" stroke-width="0.8"/>
<rect x="1292.2" y="625.5" width="17.59999999999991" height="9.5" fill="url(#silvv)"/>
<path d="M1290.2 608.7V626.5A10.799999999999955 3 0 0 0 1311.8 626.5V608.7Z" fill="url(#capg)"/>
<ellipse cx="1301.0" cy="609.2" rx="10.799999999999955" ry="6.5" fill="#141414"/>
<text x="1301.0" y="611.0" font-size="4.6" fill="#e8e8e8" text-anchor="middle" class="s">SHORT</text>
<rect x="1377.4" y="632" width="29.899999999999864" height="25.5" rx="6" fill="url(#silvv)"/>
<ellipse cx="1393.9" cy="653.5" rx="13.949999999999932" ry="4" fill="none" stroke="#8a8b8e" stroke-width="0.8"/>
<ellipse cx="1393.9" cy="639" rx="13.949999999999932" ry="4" fill="none" stroke="#8a8b8e" stroke-width="0.8"/>
<rect x="1383.8000000000002" y="626.7" width="20.200000000000045" height="8.299999999999955" fill="url(#silvv)"/>
<path d="M1381.8 608.7V627.7A12.100000000000023 3 0 0 0 1406 627.7V608.7Z" fill="url(#capg)"/>
<ellipse cx="1393.9" cy="609.2" rx="12.100000000000023" ry="6.5" fill="#141414"/>
<text x="1393.9" y="611.0" font-size="5" fill="#e8e8e8" text-anchor="middle" class="s">OPEN</text>
<rect x="1329.6" y="666.3" width="31.90000000000009" height="23.0" rx="6" fill="url(#silvv)"/>
<ellipse cx="1345.55" cy="685.3" rx="14.950000000000045" ry="4" fill="none" stroke="#8a8b8e" stroke-width="0.8"/>
<ellipse cx="1345.55" cy="673.3" rx="14.950000000000045" ry="4" fill="none" stroke="#8a8b8e" stroke-width="0.8"/>
<rect x="1335.5" y="662.4" width="20.09999999999991" height="6.899999999999977" fill="url(#silvv)"/>
<path d="M1333.5 634.2V663.4A12.049999999999955 3 0 0 0 1357.6 663.4V634.2Z" fill="url(#capg)"/>
<ellipse cx="1345.55" cy="634.7" rx="12.049999999999955" ry="6.5" fill="#141414"/>
<text x="1345.55" y="636.5" font-size="5.2" fill="#e8e8e8" text-anchor="middle" class="s">LOAD</text>
<g fill="none" stroke="#000" stroke-width="2">
<path d="M627 179H693M840 179H895"/>
<path d="M588 332.7H691V339.5M691 375.4V386.3H588"/>
<path d="M258.2 418V815.85H1164.5V606"/>
<path d="M318.05 447.5V779.05H1130.9V606"/>
<path d="M346.7 418V744.85H1097.3V606"/>
<path d="M405.2 447.5V716.85H1063.7V606"/>
<path d="M434.2 418V691.05H1010.9V606"/>
<path d="M492.4 447.5V665.9H977.3V606"/>
<path d="M520.2 418V645.9H943.6V606"/>
<path d="M578.0 447.5V629.85H910.1V606"/>
</g>
<rect x="868.5" y="427.4" width="327" height="149.1" rx="10" fill="none" stroke="#000" stroke-width="3"/>
<rect x="903.4" y="562.7" width="13.6" height="13" fill="#000"/>
<rect x="903.6" y="581.2" width="13.2" height="20.2" rx="1" fill="#fff" stroke="#000" stroke-width="2"/>
<rect x="906.2" y="602" width="8" height="4.8" fill="#000"/>
<rect x="936.8" y="562.7" width="13.6" height="13" fill="#000"/>
<rect x="937.0" y="581.2" width="13.2" height="20.2" rx="1" fill="#fff" stroke="#000" stroke-width="2"/>
<rect x="939.6" y="602" width="8" height="4.8" fill="#000"/>
<rect x="970.5" y="562.7" width="13.6" height="13" fill="#000"/>
<rect x="970.7" y="581.2" width="13.2" height="20.2" rx="1" fill="#fff" stroke="#000" stroke-width="2"/>
<rect x="973.3" y="602" width="8" height="4.8" fill="#000"/>
<rect x="1004.1" y="562.7" width="13.6" height="13" fill="#000"/>
<rect x="1004.3" y="581.2" width="13.2" height="20.2" rx="1" fill="#fff" stroke="#000" stroke-width="2"/>
<rect x="1006.9" y="602" width="8" height="4.8" fill="#000"/>
<rect x="1056.9" y="562.7" width="13.6" height="13" fill="#000"/>
<rect x="1057.1" y="581.2" width="13.2" height="20.2" rx="1" fill="#fff" stroke="#000" stroke-width="2"/>
<rect x="1059.7" y="602" width="8" height="4.8" fill="#000"/>
<rect x="1090.5" y="562.7" width="13.6" height="13" fill="#000"/>
<rect x="1090.7" y="581.2" width="13.2" height="20.2" rx="1" fill="#fff" stroke="#000" stroke-width="2"/>
<rect x="1093.3" y="602" width="8" height="4.8" fill="#000"/>
<rect x="1124.1" y="562.7" width="13.6" height="13" fill="#000"/>
<rect x="1124.3" y="581.2" width="13.2" height="20.2" rx="1" fill="#fff" stroke="#000" stroke-width="2"/>
<rect x="1126.9" y="602" width="8" height="4.8" fill="#000"/>
<rect x="1157.7" y="562.7" width="13.6" height="13" fill="#000"/>
<rect x="1157.9" y="581.2" width="13.2" height="20.2" rx="1" fill="#fff" stroke="#000" stroke-width="2"/>
<rect x="1160.5" y="602" width="8" height="4.8" fill="#000"/>
<g class="t" font-size="25" opacity="0.995">
<text x="0" y="189.5" transform="matrix(0.9527 0 0 1 711.39 0)">LAN/GPIB</text>
<text x="0" y="367.3" transform="matrix(0.9250 0 0 1 665.05 0)">USB</text>
<text x="0" y="355.8" transform="matrix(0.8375 0 0 1 1027.33 0)">PC</text>
<text x="0" y="507.6" transform="matrix(1.0239 0 0 1 918.28 0)">8-Port</text>
<text x="0" y="507.6" transform="matrix(0.9914 0 0 1 1070.00 0)">Antenna</text>
<text x="0" y="614" transform="matrix(0.9516 0 0 1 721.35 0)">Cable</text>
<text x="0" y="451.8" transform="matrix(1.0262 0 0 1 1289.85 0)">Electronic</text>
<text x="0" y="483.1" transform="matrix(1.0440 0 0 1 1267.26 0)">Calibration kit</text>
<text x="0" y="736.1" transform="matrix(1.0024 0 0 1 1282.60 0)">Mechanical</text>
<text x="0" y="767.2" transform="matrix(1.0467 0 0 1 1267.15 0)">Calibration kit</text>
</g>
</g></svg>
</body></html>
